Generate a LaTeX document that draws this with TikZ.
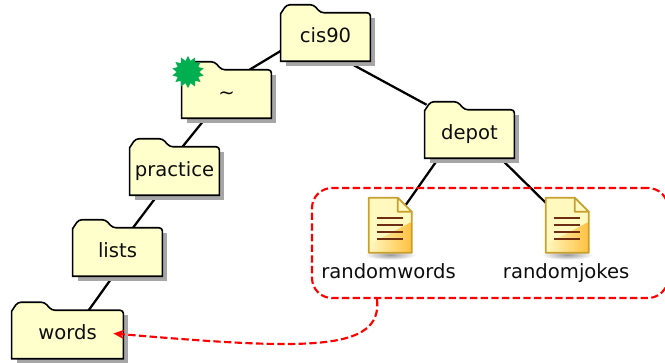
\documentclass[tikz,border=0pt]{standalone}
\usepackage{fontspec}
\setmainfont{DejaVu Sans}
\usetikzlibrary{arrows.meta,backgrounds,calc,positioning,shapes.geometric}
\definecolor{folderfill}{HTML}{FFFFCC}
\definecolor{foldershade}{HTML}{A6A6A6}
\definecolor{burstgreen}{HTML}{00B050}
\definecolor{iconedge}{HTML}{C8A030}
\definecolor{iconline}{HTML}{6E2E12}
\definecolor{iconpale}{HTML}{FFF9C0}
\definecolor{icongold}{HTML}{FFC040}
\newcommand{\folderpath}[1]{($(#1.south east)$) [sharp corners] -- (#1.south west) -- ($(#1.north west)+(0,9)$) [rounded corners=2.5pt] -- ($(#1.north west)+(6,0)$) -- ($(#1.north west)+(33,0)$) -- ($(#1.north west)+(40,8)$) -- ($(#1.north east)+(0,8)$) -- (#1.south east) [sharp corners] -- cycle}
\tikzset{
	textfont/.style={font=\fontsize{14.7}{16}\selectfont,text=black!95},
	folder/.style={textfont,minimum width=67pt,minimum height=42pt,inner sep=0pt,text height=14pt,text depth=0pt},
	wide/.style={minimum width=83.5pt},
	fileicon/.style={minimum width=32.25pt,minimum height=41.25pt,inner sep=0pt},
	filename/.style={textfont,inner sep=0pt},
	branch/.style={line width=1.7pt,black},
	redlink/.style={line width=1.6pt,red,dash pattern=on 5.5pt off 2.5pt},
	pics/docicon/.style={code={
		\shade[inner color=black!40,outer color=white] (21.5,57) ellipse [x radius=26,y radius=5];
		\begin{scope}
			\clip (0,0) -- (29,0) -- (43,14) -- (43,55) -- (0,55) -- cycle;
			\fill[iconpale] (0,0) rectangle (43,55);
			\shade[left color=iconpale,right color=icongold] (0,47) -- (43,24) -- (43,55) -- (0,55) -- cycle;
		\end{scope}
		\draw[iconedge,line width=1.3pt,line join=round] (0,0) -- (29,0) -- (43,14) -- (43,55) -- (0,55) -- cycle;
		\draw[iconedge,fill=iconpale,line width=1.3pt,line join=round] (29,0) -- (29,14) -- (43,14) -- cycle;
		\foreach \y in {20,27,34,41}
			\draw[iconline,line width=1.4pt] (8,\y) -- (34,\y);
	}}
}

\begin{document}
\begin{tikzpicture}[x=.75pt,y=-.75pt]
	\useasboundingbox (0,0) rectangle (665,362);

	\node[folder] (cis90) at (325.5,33) {cis90};
	\node[folder] (home) at (226.5,90) {\textasciitilde};
	\node[folder] (depot) at (469.5,130) {depot};
	\node[folder] (practice) at (174.5,167) {practice};
	\node[folder] (lists) at (117.5,248) {lists};
	\node[folder,wide] (words) at (67.5,330.5) {words};

	\node[fileicon] (wordsicon) at (390.5,225.5) {};
	\node[fileicon] (jokesicon) at (567.5,225.5) {};
	\pic at (wordsicon.north west) {docicon};
	\pic at (jokesicon.north west) {docicon};
	\node[filename,below=7.5pt of wordsicon,xshift=-1.5pt] (wordsname) {randomwords};
	\node[filename,below=7.5pt of jokesicon,xshift=-1pt] (jokesname) {randomjokes};

	\node[star,star points=14,star point ratio=1.4,fill=burstgreen,minimum size=24pt,inner sep=0pt] (burst) at (188,72) {};

	\node[redlink,draw,rounded corners=15pt,minimum width=267pt,minimum height=82.5pt,inner sep=0pt] (selection) at (490,243) {};
	\draw[redlink,-{Stealth[length=8pt,width=7pt]}] ($(selection.south)+(-113,0)$) .. controls +(6,54) and +(190,16) .. ($(words.east)+(-10,3)$);

	\begin{pgfonlayer}{background}
		% tree
		\draw[branch] ($(cis90.west)+(0,18)$) -- ($(home.north)+(23,8)$);
		\draw[branch] ($(cis90.south)+(21,0)$) -- ($(depot.north west)+(2,3)$);
		\draw[branch] ($(home.south)+(-21,0)$) -- ($(practice.north)+(8,8)$);
		\draw[branch] ($(practice.south)+(-17,0)$) -- ($(lists.north)+(15.5,8)$);
		\draw[branch] ($(lists.south)+(-4.5,0)$) -- ($(words.north)+(20.5,9)$);
		\draw[branch] ($(depot.south)+(-31,0)$) -- ($(wordsicon.north)+(14,9)$);
		\draw[branch] ($(depot.south)+(31,0)$) -- ($(jokesicon.north west)+(4,9)$);
		% folders
		\foreach \f in {cis90,home,depot,practice,lists,words}{
			\fill[foldershade] ($(\f.north west)+(5,13)$) rectangle ($(\f.south east)+(5,5)$);
			\draw[line width=1.2pt,fill=folderfill] \folderpath{\f};
		}
	\end{pgfonlayer}
\end{tikzpicture}
\end{document}
